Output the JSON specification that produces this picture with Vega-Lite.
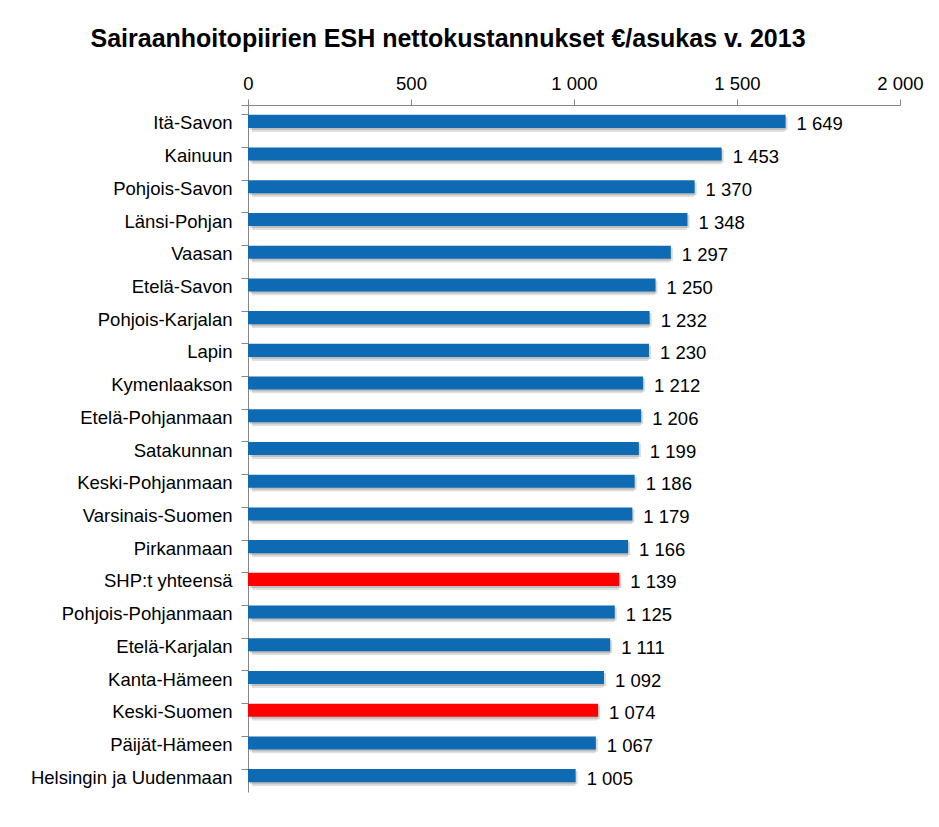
{
  "$schema": "https://vega.github.io/schema/vega-lite/v6.json",
  "autosize": {"type": "none"},
  "padding": {"left": 248, "top": 105, "right": 39, "bottom": 35},
  "width": 652,
  "height": 687,
  "background": "white",
  "config": {
    "locale": {"number": {"decimal": ",", "thousands": " ", "grouping": [3], "currency": ["", " €"]}},
    "view": {"stroke": null},
    "font": "Liberation Sans"
  },
  "title": {
    "text": "Sairaanhoitopiirien ESH nettokustannukset €/asukas v. 2013",
    "anchor": "middle",
    "frame": "group",
    "dx": -126,
    "offset": 22,
    "fontSize": 25,
    "fontWeight": "bold",
    "color": "black",
    "font": "Liberation Sans"
  },
  "data": {
    "values": [
      {"alue": "Itä-Savon", "kustannus": 1649, "ryhma": "muu"},
      {"alue": "Kainuun", "kustannus": 1453, "ryhma": "muu"},
      {"alue": "Pohjois-Savon", "kustannus": 1370, "ryhma": "muu"},
      {"alue": "Länsi-Pohjan", "kustannus": 1348, "ryhma": "muu"},
      {"alue": "Vaasan", "kustannus": 1297, "ryhma": "muu"},
      {"alue": "Etelä-Savon", "kustannus": 1250, "ryhma": "muu"},
      {"alue": "Pohjois-Karjalan", "kustannus": 1232, "ryhma": "muu"},
      {"alue": "Lapin", "kustannus": 1230, "ryhma": "muu"},
      {"alue": "Kymenlaakson", "kustannus": 1212, "ryhma": "muu"},
      {"alue": "Etelä-Pohjanmaan", "kustannus": 1206, "ryhma": "muu"},
      {"alue": "Satakunnan", "kustannus": 1199, "ryhma": "muu"},
      {"alue": "Keski-Pohjanmaan", "kustannus": 1186, "ryhma": "muu"},
      {"alue": "Varsinais-Suomen", "kustannus": 1179, "ryhma": "muu"},
      {"alue": "Pirkanmaan", "kustannus": 1166, "ryhma": "muu"},
      {"alue": "SHP:t yhteensä", "kustannus": 1139, "ryhma": "korostettu"},
      {"alue": "Pohjois-Pohjanmaan", "kustannus": 1125, "ryhma": "muu"},
      {"alue": "Etelä-Karjalan", "kustannus": 1111, "ryhma": "muu"},
      {"alue": "Kanta-Hämeen", "kustannus": 1092, "ryhma": "muu"},
      {"alue": "Keski-Suomen", "kustannus": 1074, "ryhma": "korostettu"},
      {"alue": "Päijät-Hämeen", "kustannus": 1067, "ryhma": "muu"},
      {"alue": "Helsingin ja Uudenmaan", "kustannus": 1005, "ryhma": "muu"}
    ]
  },
  "encoding": {
    "y": {
      "field": "alue",
      "type": "nominal",
      "sort": null,
      "scale": {"paddingInner": 0.6, "paddingOuter": 0.3},
      "axis": {
        "title": null,
        "bandPosition": 0,
        "tickExtra": true,
        "tickSize": 7,
        "tickColor": "#868686",
        "domainColor": "#868686",
        "labelFontSize": 18.5,
        "labelColor": "black",
        "labelPadding": 9,
        "labelOffset": 2,
        "labelLimit": 400,
        "labelFont": "Liberation Sans"
      }
    },
    "x": {
      "field": "kustannus",
      "type": "quantitative",
      "scale": {"domain": [0, 2000], "nice": false},
      "axis": {
        "orient": "top",
        "title": null,
        "values": [0, 500, 1000, 1500, 2000],
        "format": ",d",
        "grid": false,
        "tickSize": 6,
        "tickColor": "#868686",
        "domainColor": "#868686",
        "labelFontSize": 18.5,
        "labelColor": "black",
        "labelPadding": 6,
        "labelFont": "Liberation Sans",
        "labelFlush": false
      }
    }
  },
  "layer": [
    {
      "mark": {"type": "bar", "color": "#000000", "opacity": 0.12, "xOffset": 4, "yOffset": 4, "cornerRadius": 2},
      "encoding": {}
    },
    {
      "mark": {"type": "bar", "color": "#000000", "opacity": 0.15, "xOffset": 2, "yOffset": 2},
      "encoding": {}
    },
    {
      "mark": {"type": "bar"},
      "encoding": {
        "color": {
          "field": "ryhma",
          "type": "nominal",
          "scale": {"domain": ["muu", "korostettu"], "range": ["#0F6AB4", "#FF0000"]},
          "legend": null
        }
      }
    },
    {
      "mark": {"type": "text", "align": "left", "baseline": "middle", "dx": 11, "dy": 3, "fontSize": 18.5, "color": "black", "font": "Liberation Sans"},
      "encoding": {
        "text": {"field": "kustannus", "type": "quantitative", "format": ",d"}
      }
    }
  ]
}
